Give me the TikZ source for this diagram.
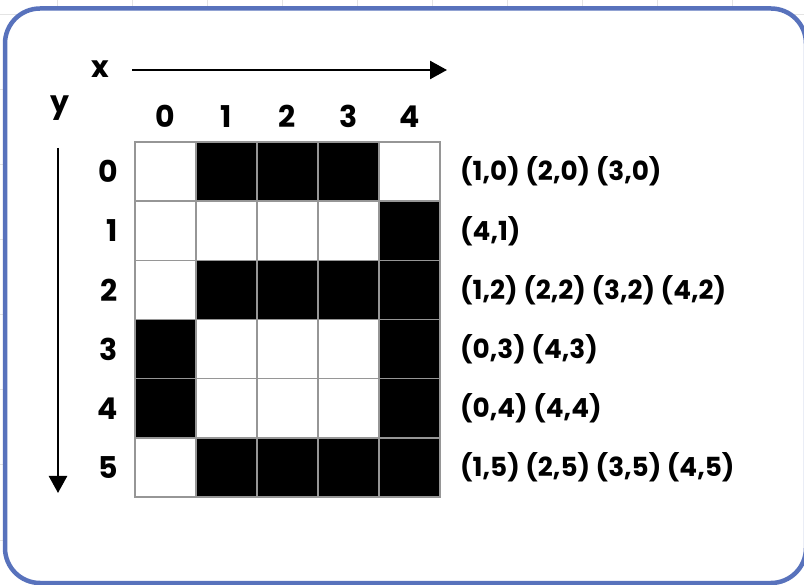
\documentclass[tikz,border=0pt]{standalone}
\usepackage{fontspec}
\setmainfont{Poppins}
\usepackage{tikz}
\usetikzlibrary{arrows.meta, positioning}

\definecolor{frameblue}{RGB}{88,114,188}
\definecolor{gridgray}{RGB}{150,150,150}
\definecolor{sheetgray}{RGB}{228,228,228}

\begin{document}
\begin{tikzpicture}[x=1pt, y=-1pt,
    cell/.style={draw=gridgray, line width=1.5pt, fill=white, minimum width=61pt,
        minimum height=59.17pt, inner sep=0pt, outer sep=0pt},
    pix/.style={cell, fill=black},
    lbl/.style={font=\fontsize{30}{34}\selectfont\bfseries, inner sep=0pt},
    pair/.style={font=\fontsize{26.3}{30}\selectfont\bfseries, inner sep=0pt},
    axis/.style={line width=2.5pt, -{Triangle[length=17pt, width=18pt]}}]
    \useasboundingbox (0,0) rectangle (804,585);
    \foreach \gx in {57,132,...,807} \draw[sheetgray, line width=1pt] (\gx,0) -- (\gx,585);
    \foreach \gy in {15,90,...,585} \draw[sheetgray, line width=1pt] (0,\gy) -- (804,\gy);
    \fill[white, rounded corners=35pt] (5,8.5) rectangle (806,583);

    \foreach \c in {0,...,4}
        \foreach \r in {0,...,5}
            \node[cell] (cell-\c-\r) at ({165.5+61*\c}, {171.6+59.17*\r}) {};
    \foreach \c/\r in {1/0,2/0,3/0, 4/1, 1/2,2/2,3/2,4/2, 0/3,4/3, 0/4,4/4, 1/5,2/5,3/5,4/5}
        \node[pix] (px-\c-\r) at (cell-\c-\r) {};

    \foreach \c in {0,...,4}
        \node[lbl, above=14pt of cell-\c-0] (col-\c) {\c};
    \foreach \r in {0,...,5}
        \node[lbl, left=17pt of cell-0-\r] (row-\r) {\r};

    \node[pair, right=20pt of cell-4-0] (pts-0) {(1,0) (2,0) (3,0)};
    \node[pair, right=20pt of cell-4-1] (pts-1) {(4,1)};
    \node[pair, right=20pt of cell-4-2] (pts-2) {(1,2) (2,2) (3,2) (4,2)};
    \node[pair, right=20pt of cell-4-3] (pts-3) {(0,3) (4,3)};
    \node[pair, right=20pt of cell-4-4] (pts-4) {(0,4) (4,4)};
    \node[pair, right=20pt of cell-4-5] (pts-5) {(1,5) (2,5) (3,5) (4,5)};

    \node[lbl, anchor=base] (xlab) at (100,78) {x};
    \node[lbl, anchor=base] (ylab) at (60,113) {y};
    \coordinate (xtail) at (132,70);
    \coordinate (xtip) at (447,70);
    \coordinate (ytail) at (58,148);
    \coordinate (ytip) at (58,493);
    \draw[axis] (xtail) -- (xtip);
    \draw[axis] (ytail) -- (ytip);

    \draw[frameblue, line width=4.5pt, rounded corners=35pt] (5,8.5) rectangle (806,583);
\end{tikzpicture}
\end{document}
